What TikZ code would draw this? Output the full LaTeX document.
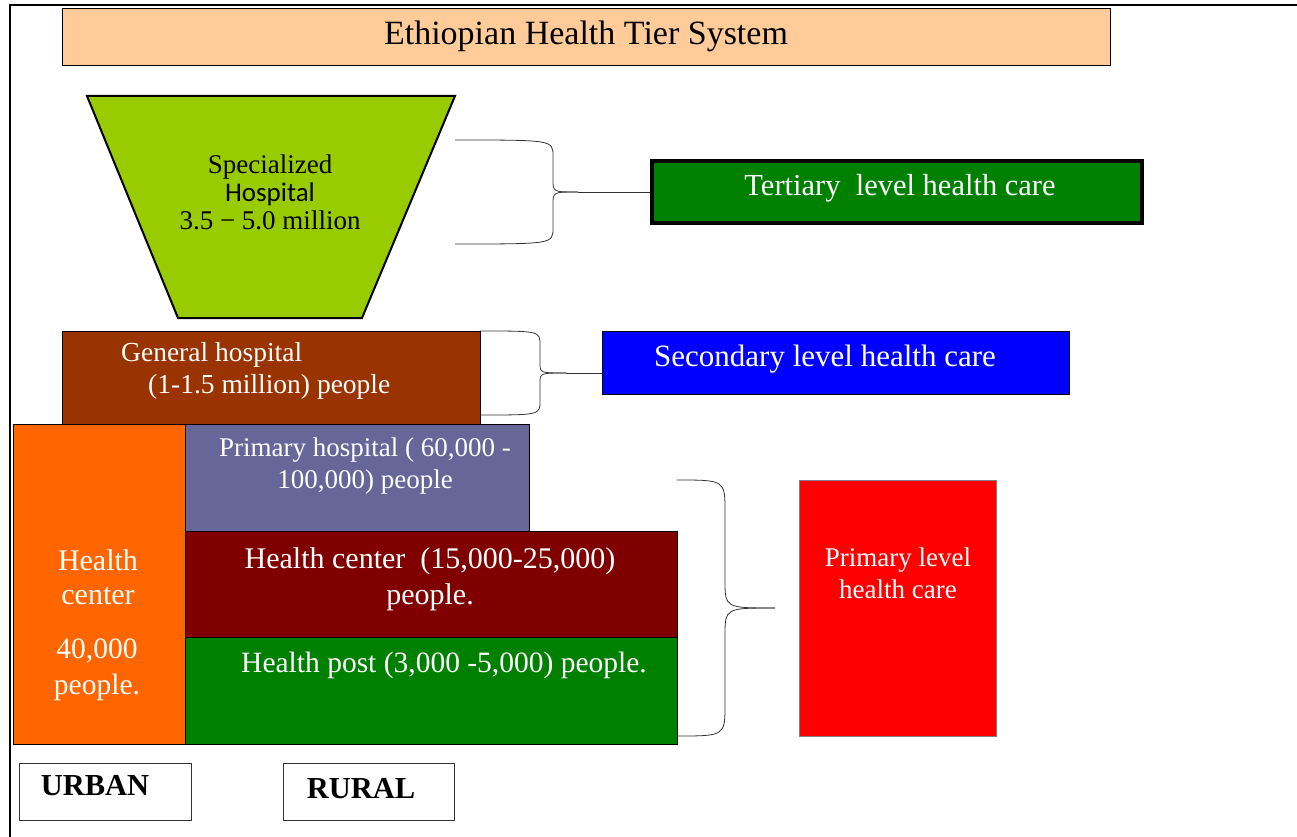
\documentclass[tikz,border=0pt]{standalone}
\usepackage{fontspec}
\setmainfont{Liberation Serif}
\newfontfamily\hospfont{Carlito}
\usetikzlibrary{fit}
\definecolor{peach}{HTML}{FFCC99}
\definecolor{lime}{HTML}{99CC00}
\definecolor{tiergreen}{HTML}{008000}
\definecolor{rust}{HTML}{993300}
\definecolor{slate}{HTML}{666699}
\definecolor{maroon}{HTML}{800000}
\definecolor{tierorange}{HTML}{FF6600}
\newcommand{\tiersize}[2]{\fontsize{#1}{#2}\selectfont}
% name, x start, y top, y bottom, x vertical, x tip, arm bend, tip bend
\newcommand{\curlybrace}[8]{
  \coordinate (#1-top) at (#2,#3);
  \coordinate (#1-bot) at (#2,#4);
  \coordinate (#1-tip) at (#6,{(#3+#4)/2});
  \draw[bracepen] (#1-top) .. controls (#5,#3) and (#5,#3) .. (#5,{#3+#7})
    -- (#5,{(#3+#4)/2-#8}) .. controls (#5,{(#3+#4)/2}) and (#5,{(#3+#4)/2}) .. (#1-tip);
  \draw[bracepen] (#1-tip) .. controls (#5,{(#3+#4)/2}) and (#5,{(#3+#4)/2}) .. (#5,{(#3+#4)/2+#8})
    -- (#5,{#4-#7}) .. controls (#5,#4) and (#5,#4) .. (#1-bot);}

\begin{document}
\begin{tikzpicture}[x=1pt,y=-1pt,
    tierbox/.style={draw=black, line width=0.8pt, inner sep=0pt},
    whitetext/.style={text=white, align=center, inner sep=0pt, font=\tiersize{29}{32}},
    blacktext/.style={text=black, align=center, inner sep=0pt, font=\tiersize{27}{32}},
    bracepen/.style={draw=black!80, line width=0.8pt},
    framepen/.style={draw=black, line width=2pt}]
    \useasboundingbox (0,0) rectangle (1297,837);

    % frame
    \draw[framepen] (1297,5) -- (10,5) -- (10,837);

    % title
    \node[tierbox, fill=peach, fit={(62,8) (1110,65)}] (title) {};
    \node[blacktext, font=\tiersize{34}{38}] (titletxt) at (title.center) {Ethiopian Health Tier System};

    % specialized hospital
    \draw[line width=2pt, fill=lime] (87,96) -- (455,96) -- (362,318) -- (178,318) -- cycle;
    \node[blacktext, font=\tiersize{27}{28}] (spectxt) at (270,192)
        {Specialized\\{\hospfont Hospital}\\3.5 − 5.0 million};

    % tertiary
    \node[tierbox, line width=3.5pt, fill=tiergreen, fit={(652,161) (1142,223)}] (tertiary) {};
    \node[whitetext, font=\tiersize{30.5}{32}] (tertiarytxt) at (900,188) {Tertiary\ \ level health care};
    \curlybrace{tbrace}{455}{140}{244}{553}{578}{16}{12}
    \draw[bracepen] (tbrace-tip) -- (tbrace-tip -| tertiary.west);

    % general hospital
    \node[tierbox, fill=rust, fit={(62,331) (480,424)}] (general) {};
    \node[whitetext, font=\tiersize{27.5}{32}, align=left, anchor=west] (generaltxt) at (121,371)
        {General hospital\\\hspace*{27pt}(1-1.5 million) people};

    % secondary
    \node[tierbox, fill=blue, fit={(602,331) (1069,394)}] (secondary) {};
    \node[whitetext, font=\tiersize{31}{32}] (secondarytxt) at (825,359) {Secondary level health care};
    \curlybrace{sbrace}{480}{331}{415}{540}{566}{14}{10}
    \draw[bracepen] (sbrace-tip) -- (sbrace-tip -| secondary.west);

    % urban health center
    \node[tierbox, fill=tierorange, fit={(13,424) (185,744)}] (urbanhc) {};
    \node[whitetext, font=\tiersize{30}{34}] (urbanhctxt) at (98,577) {Health\\center};
    \node[whitetext, font=\tiersize{29.5}{36}] (urbanpoptxt) at (97,670) {40,000\\people.};

    % rural tiers
    \node[tierbox, fill=slate, fit={(185,424) (529,531)}] (primhosp) {};
    \node[whitetext, font=\tiersize{27}{32}] (primhosptxt) at (365,466)
        {Primary hospital ( 60,000 -\\100,000) people};
    \node[tierbox, fill=maroon, fit={(185,531) (677,637)}] (healthcenter) {};
    \node[whitetext, font=\tiersize{30}{36}] (healthcentertxt) at (430,579)
        {Health center\ \ (15,000-25,000)\\people.};
    \node[tierbox, fill=tiergreen, fit={(185,637) (677,744)}] (healthpost) {};
    \node[whitetext, font=\tiersize{29.5}{32}] (healthposttxt) at (444,665) {Health post (3,000 -5,000) people.};

    % primary level
    \node[tierbox, draw=black!50, fill=red, fit={(799,480) (996,736)}] (primary) {};
    \node[whitetext, font=\tiersize{27}{32}] (primarytxt) at (898,573) {Primary level\\health care};
    \curlybrace{pbrace}{677}{480}{736}{725}{775}{32}{28}

    % urban / rural labels
    \node[tierbox, draw=black!80, fit={(19,763) (191,820)}] (urban) {};
    \node[blacktext, font=\bfseries\tiersize{30.5}{32}] (urbantxt) at (95,786) {URBAN};
    \node[tierbox, draw=black!80, fit={(283,763) (454,820)}] (rural) {};
    \node[blacktext, font=\bfseries\tiersize{30.5}{32}] (ruraltxt) at (361,789) {RURAL};
\end{tikzpicture}
\end{document}
